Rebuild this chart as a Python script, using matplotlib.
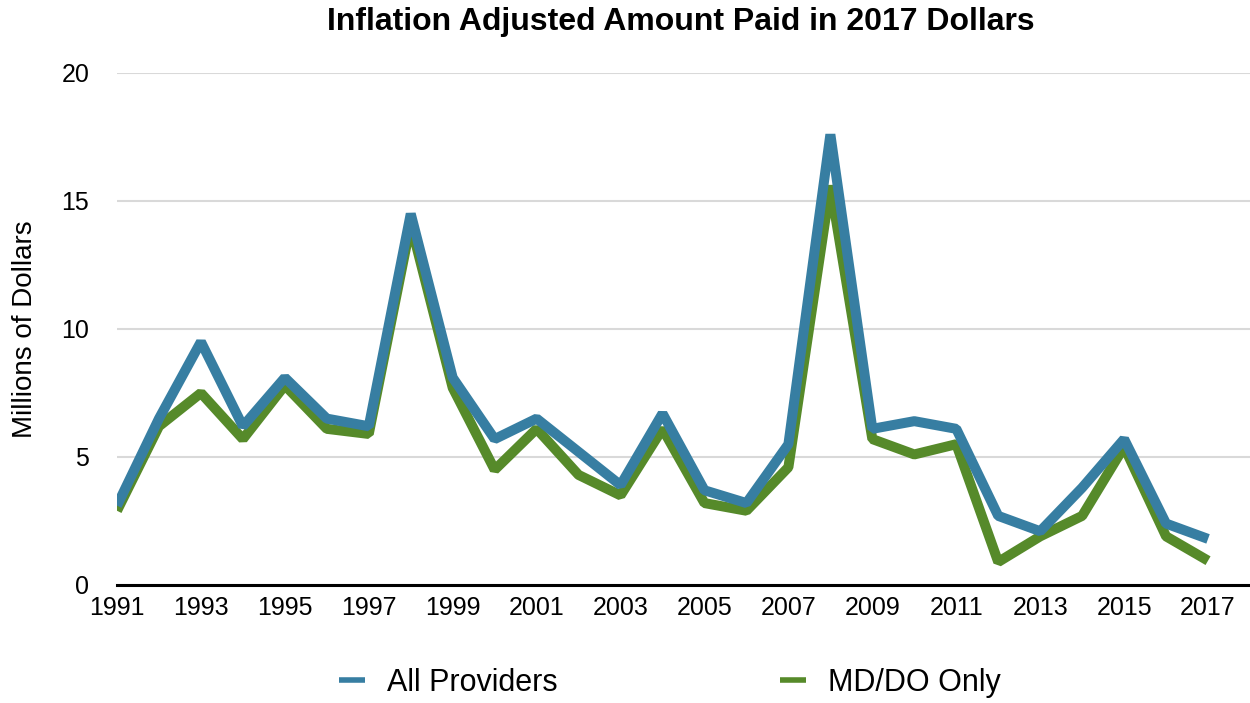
import matplotlib
matplotlib.use("Agg")
import matplotlib.pyplot as plt

years = list(range(1991, 2018))
all_providers = [3.1, 6.5, 9.5, 6.2, 8.1, 6.5, 6.2, 14.5, 8.1, 5.7, 6.5, 5.2, 3.9, 6.7, 3.7, 3.2, 5.5,
                 17.6, 6.1, 6.4, 6.1, 2.7, 2.1, 3.8, 5.7, 2.4, 1.8]
md_do_only = [2.9, 6.2, 7.5, 5.7, 7.8, 6.1, 5.9, 14.1, 7.7, 4.5, 6.1, 4.3, 3.5, 6.1, 3.2, 2.9, 4.6,
              15.6, 5.7, 5.1, 5.5, 0.9, 1.9, 2.7, 5.4, 1.9, 0.95]
y_ticks = [0, 5, 10, 15, 20]
x_ticks = list(range(1991, 2018, 2))

BLUE = "#377ea2"
GREEN = "#568a2a"

plt.rcParams['font.family'] = ['Liberation Sans', 'DejaVu Sans']

fig = plt.figure(figsize=(12.5, 7.03), dpi=100)
ax = fig.add_axes([117/1250, 1 - 585/703, 1 - 117/1250, (585 - 73)/703])

ax.plot(years, md_do_only, color=GREEN, lw=7.2, solid_joinstyle='bevel', solid_capstyle='butt',
        label="MD/DO Only", zorder=3)
ax.plot(years, all_providers, color=BLUE, lw=7.2, solid_joinstyle='bevel', solid_capstyle='butt',
        label="All Providers", zorder=4)

ax.set_xlim(1991, 2018)
ax.set_ylim(0, 20)
ax.set_yticks(y_ticks)
ax.set_xticks(x_ticks)
ax.set_xticklabels([str(y) for y in x_ticks])
ax.tick_params(axis='y', length=0, pad=20, labelsize=18)
ax.tick_params(axis='x', length=0, pad=8, labelsize=18)
ax.yaxis.grid(True, color="#d9d9d9", lw=1.5)
ax.set_axisbelow(True)
for s in ['top', 'right', 'left']:
    ax.spines[s].set_visible(False)
ax.spines['bottom'].set_color('black')
ax.spines['bottom'].set_linewidth(2.2)
ax.spines['bottom'].set_zorder(5)

ax.set_ylabel("Millions of Dollars", fontsize=20)
ax.yaxis.set_label_coords((38 - 117) / (1250 - 117), 0.5)

fig.text(681/1250, 1 - 22/703, "Inflation Adjusted Amount Paid in 2017 Dollars",
         ha='center', va='center', fontsize=23, fontweight='bold')

handles, labels = ax.get_legend_handles_labels()
leg = fig.legend([handles[1], handles[0]], [labels[1], labels[0]], loc='center',
                 bbox_to_anchor=(670/1250, 1 - 683/703), ncol=2, frameon=False,
                 fontsize=22, handlelength=0.85, handletextpad=0.7, columnspacing=7.3)
for line in leg.get_lines():
    line.set_linewidth(4)

fig.savefig("out.png", dpi=100)
